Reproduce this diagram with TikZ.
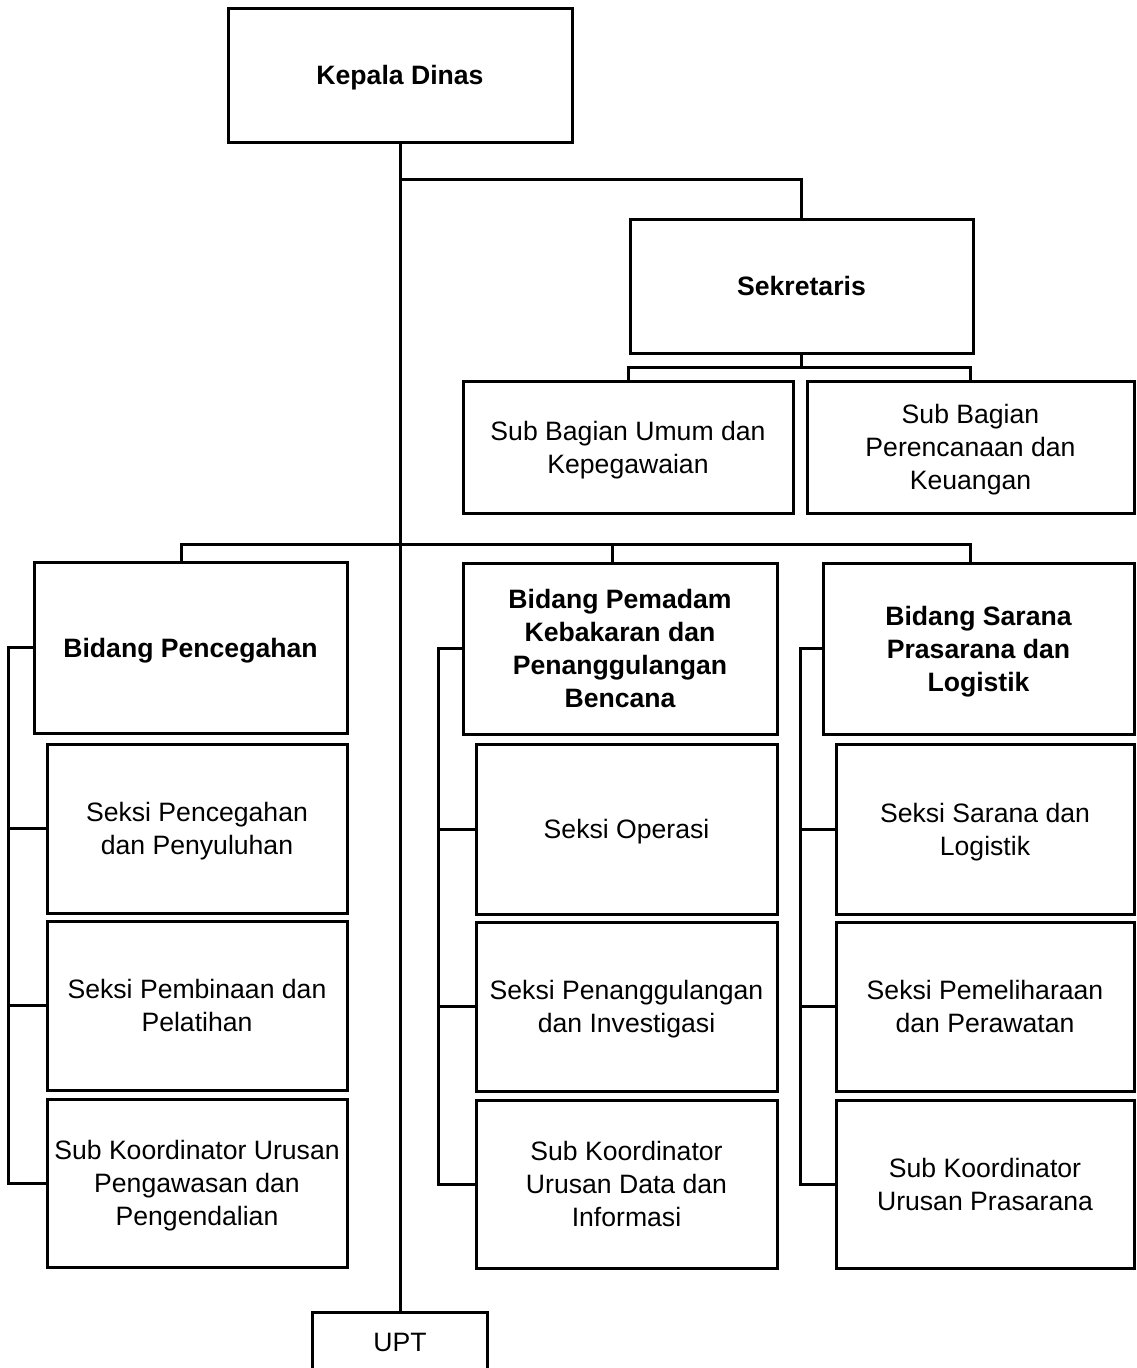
\documentclass[tikz,border=0pt]{standalone}
\usepackage{fontspec}
\setmainfont{Liberation Sans}
\usetikzlibrary{positioning}
\tikzset{
	orgnode/.style = {
		align=center,
		inner sep=0pt,
		draw=black,
		line width=3pt,
		text=black,
		text depth=0pt,
		font=\fontsize{26.6pt}{33pt}\selectfont
	},
	node_head/.style = {
		orgnode,
		font=\fontsize{26.6pt}{33pt}\selectfont\bfseries
	},
	node_unit/.style = {
		orgnode
	},
	node_size/.style 2 args = {
		minimum width=#1pt,
		minimum height=#2pt
	},
}

\begin{document}
\begin{tikzpicture}[x=1pt, y=-1pt, line width=3pt]
\useasboundingbox (0,0) rectangle (1136,1368);

\node [node_head, node_size={344}{134}] (kd) at (400,75) {Kepala Dinas};
\node [node_head, node_size={343}{134}] (sek) at (801.5,286) {Sekretaris};
\node [node_unit, node_size={330}{132}] (sub_um) at (628,447) {Sub Bagian Umum dan\\Kepegawaian};
\node [node_unit, node_size={327}{132}] (sub_ren) at (970.5,447) {Sub Bagian\\Perencanaan dan\\Keuangan};

\node [node_head, node_size={313}{171}] (bp) at (190.5,647.5) {Bidang Pencegahan};
\node [node_head, node_size={314}{171}] (bpk) at (620,648.5) {Bidang Pemadam\\Kebakaran dan\\Penanggulangan\\Bencana};
\node [node_head, node_size={311}{171}] (bsp) at (978.5,648.5) {Bidang Sarana\\Prasarana dan\\Logistik};

\node [node_unit, node_size={300}{169}] (s11) at (197,828.5) {Seksi Pencegahan\\dan Penyuluhan};
\node [node_unit, node_size={300}{169}] (s12) at (197,1005.5) {Seksi Pembinaan dan\\Pelatihan};
\node [node_unit, node_size={300}{168}] (s13) at (197,1183) {Sub Koordinator Urusan\\Pengawasan dan\\Pengendalian};

\node [node_unit, node_size={301}{170}] (s21) at (626.5,829) {Seksi Operasi};
\node [node_unit, node_size={301}{169}] (s22) at (626.5,1006.5) {Seksi Penanggulangan\\dan Investigasi};
\node [node_unit, node_size={301}{168}] (s23) at (626.5,1184) {Sub Koordinator\\Urusan Data dan\\Informasi};

\node [node_unit, node_size={298}{170}] (s31) at (985,829) {Seksi Sarana dan\\Logistik};
\node [node_unit, node_size={298}{169}] (s32) at (985,1006.5) {Seksi Pemeliharaan\\dan Perawatan};
\node [node_unit, node_size={298}{168}] (s33) at (985,1184) {Sub Koordinator\\Urusan Prasarana};

\node [node_unit, node_size={175}{60}] (upt) at (400,1342) {UPT};

\coordinate (sek_in) at (400,179);
\coordinate (sek_bus) at (801.5,367);
\coordinate (bus_l) at (181,544);
\coordinate (bus_m) at (612,544);
\coordinate (bus_r) at (970,544);

\draw (kd.south) -- (upt.north);
\draw (sek_in) -| (sek.north);
\draw (sek.south) -- (sek_bus);
\draw (sub_um.north) |- (sek_bus) -| (sub_ren.north);

\draw (bus_l |- bp.north) -- (bus_l) -- (bus_r) -- (bus_r |- bsp.north);
\draw (bus_m) -- (bus_m |- bpk.north);

\draw (bp.west) -- ++(-24,0) coordinate (b1) |- (s13.west);
\draw (b1 |- s11.west) -- (s11.west);
\draw (b1 |- s12.west) -- (s12.west);

\draw (bpk.west) -- ++(-23,0) coordinate (b2) |- (s23.west);
\draw (b2 |- s21.west) -- (s21.west);
\draw (b2 |- s22.west) -- (s22.west);

\draw (bsp.west) -- ++(-21,0) coordinate (b3) |- (s33.west);
\draw (b3 |- s31.west) -- (s31.west);
\draw (b3 |- s32.west) -- (s32.west);
\end{tikzpicture}
\end{document}
